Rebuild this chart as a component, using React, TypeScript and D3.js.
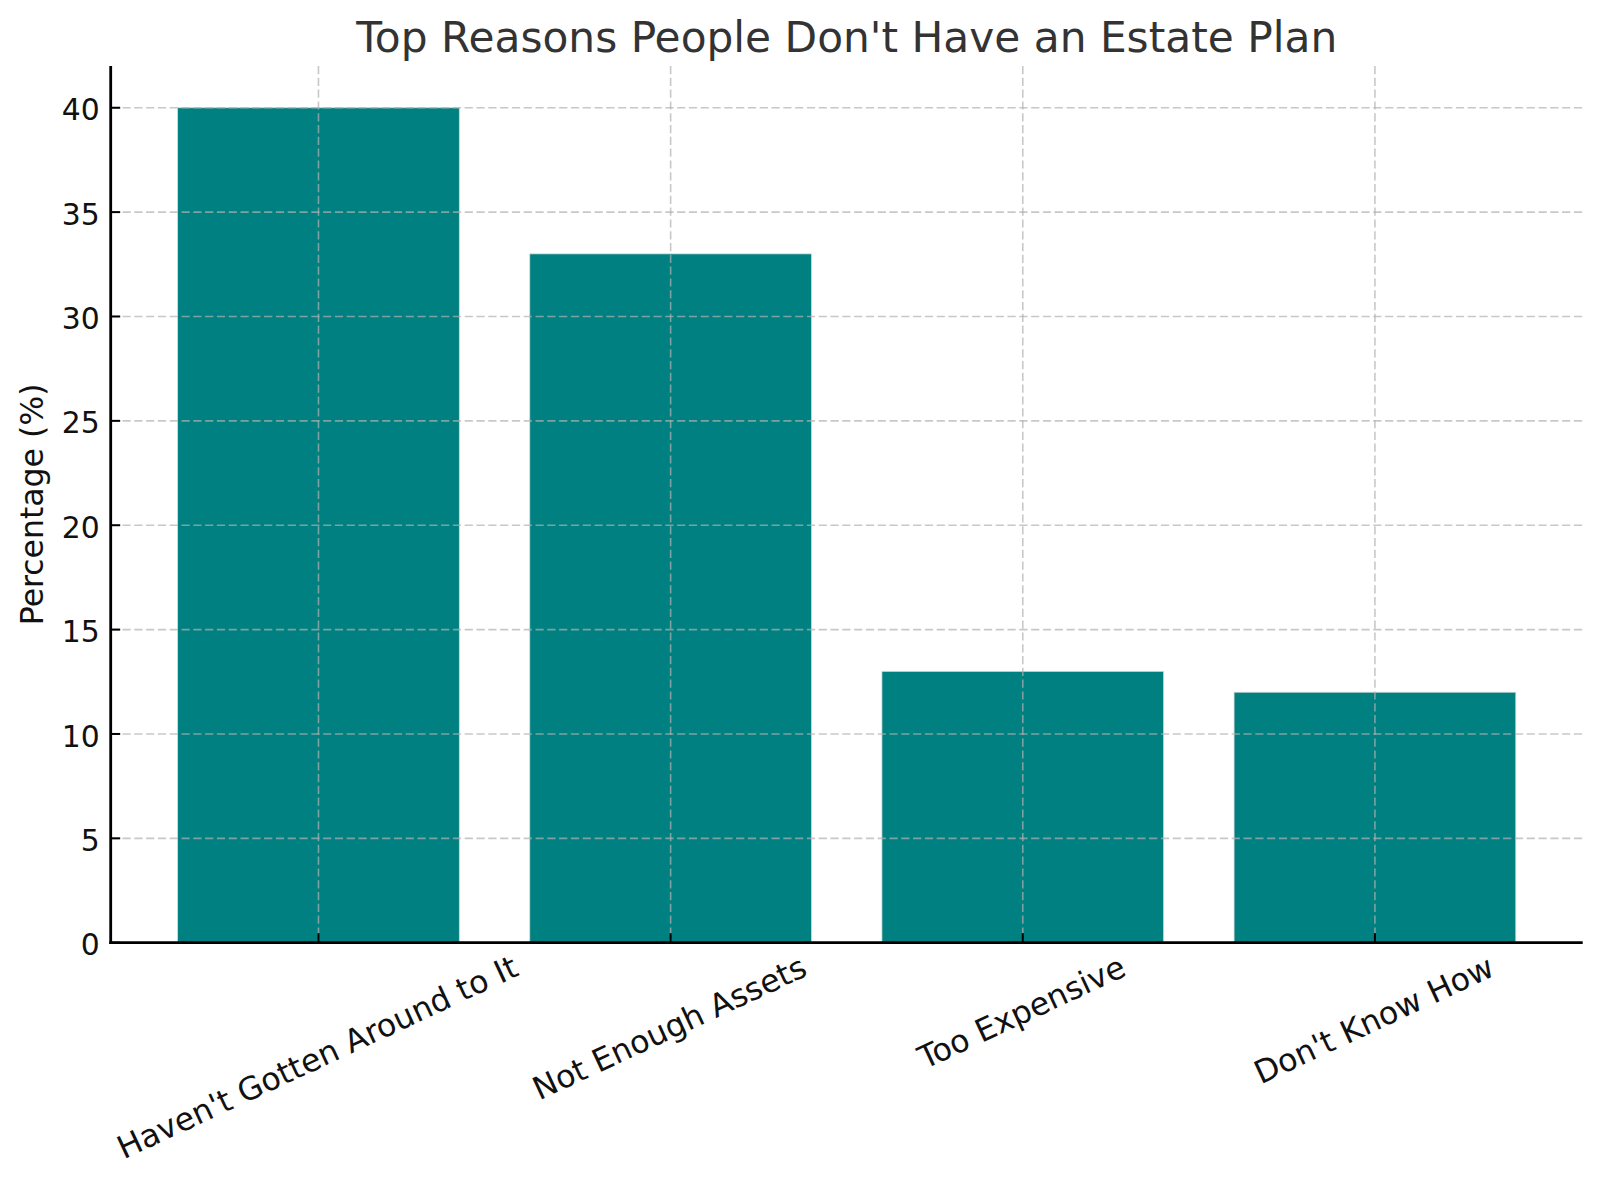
import React, { useEffect, useRef } from "react";
import * as d3 from "d3";

const categories = [
  "Haven't Gotten Around to It",
  "Not Enough Assets",
  "Too Expensive",
  "Don't Know How",
];
const values = [40, 33, 13, 12];
const yTickValues = [0, 5, 10, 15, 20, 25, 30, 35, 40];
const titleText = "Top Reasons People Don't Have an Estate Plan";
const yLabelText = "Percentage (%)";

const W = 1600;
const H = 1185;
const M = { left: 110.7, right: 1582.7, top: 66, bottom: 942.7 };
const FONT = "'DejaVu Sans', sans-serif";
const YTICK_FS = 29.8;
const XTICK_FS = 31.6;
const YLABEL_FS = 31.5;
const TITLE_FS = 42.3;

export default function App() {
  const ref = useRef<SVGSVGElement | null>(null);

  useEffect(() => {
    const svg = d3.select(ref.current);
    svg.selectAll("*").remove();

    const n = categories.length;
    const x = d3
      .scaleLinear()
      .domain([-0.4 - 0.05 * (n - 1 + 0.8), n - 1 + 0.4 + 0.05 * (n - 1 + 0.8)])
      .range([M.left, M.right]);
    const y = d3.scaleLinear().domain([0, 42]).range([M.bottom, M.top]);
    const barW = 0.8;

    svg.append("rect").attr("width", W).attr("height", H).attr("fill", "#fff");

    // bars
    svg
      .append("g")
      .selectAll("rect")
      .data(values)
      .join("rect")
      .attr("x", (_, i) => x(i - barW / 2))
      .attr("width", (_, i) => x(i + barW / 2) - x(i - barW / 2))
      .attr("y", (d) => y(d))
      .attr("height", (d) => y(0) - y(d))
      .attr("fill", "#008080")
      .attr("stroke", "#d8d8d8")
      .attr("stroke-width", 0.8);

    // grid
    const grid = svg.append("g").attr("stroke", "#b0b0b0").attr("stroke-opacity", 0.7)
      .attr("stroke-width", 1.6).attr("stroke-dasharray", "8.2,3.6");
    grid
      .selectAll("line.h")
      .data(yTickValues)
      .join("line")
      .attr("class", "h")
      .attr("x1", M.left)
      .attr("x2", M.right)
      .attr("y1", (d) => y(d))
      .attr("y2", (d) => y(d));
    grid
      .selectAll("line.v")
      .data(categories.map((_, i) => i))
      .join("line")
      .attr("class", "v")
      .attr("x1", (d) => x(d))
      .attr("x2", (d) => x(d))
      .attr("y1", M.top)
      .attr("y2", M.bottom);

    // ticks (inward)
    const ticks = svg.append("g").attr("stroke", "#000").attr("stroke-width", 2);
    ticks
      .selectAll("line.yt")
      .data(yTickValues)
      .join("line")
      .attr("x1", M.left)
      .attr("x2", M.left + 9.5)
      .attr("y1", (d) => y(d))
      .attr("y2", (d) => y(d));
    ticks
      .selectAll("line.xt")
      .data(categories.map((_, i) => i))
      .join("line")
      .attr("x1", (d) => x(d))
      .attr("x2", (d) => x(d))
      .attr("y1", M.bottom)
      .attr("y2", M.bottom - 9.5);

    // spines
    svg
      .append("line")
      .attr("x1", M.left)
      .attr("x2", M.left)
      .attr("y1", M.top)
      .attr("y2", M.bottom + 1.4)
      .attr("stroke", "#000")
      .attr("stroke-width", 2.8);
    svg
      .append("line")
      .attr("x1", M.left - 1.4)
      .attr("x2", M.right)
      .attr("y1", M.bottom)
      .attr("y2", M.bottom)
      .attr("stroke", "#000")
      .attr("stroke-width", 2.8);

    // y tick labels
    svg
      .append("g")
      .selectAll("text")
      .data(yTickValues)
      .join("text")
      .attr("x", M.left - 11)
      .attr("y", (d) => y(d) + 12.6)
      .attr("text-anchor", "end")
      .attr("font-family", FONT)
      .attr("font-size", YTICK_FS)
      .attr("fill", "#111")
      .text((d) => String(d));

    // x tick labels, rotated 25deg, bbox centered on tick, top at pad
    const theta = (25 * Math.PI) / 180;
    const pad = 10.3;
    const hBox = 0.996 * XTICK_FS;
    const xl = svg.append("g");
    categories.forEach((c, i) => {
      const g = xl.append("g");
      const t = g
        .append("text")
        .attr("text-anchor", "middle")
        .attr("font-family", FONT)
        .attr("font-size", XTICK_FS)
        .attr("fill", "#111")
        .attr("y", 0.262 * XTICK_FS)
        .text(c);
      const w = (t.node() as SVGTextElement).getComputedTextLength();
      const bh = w * Math.sin(theta) + hBox * Math.cos(theta);
      g.attr(
        "transform",
        `translate(${x(i)},${M.bottom + pad + bh / 2}) rotate(-25)`
      );
    });

    // y label
    svg
      .append("text")
      .attr("transform", `translate(42.5,${(M.top + M.bottom) / 2}) rotate(-90)`)
      .attr("text-anchor", "middle")
      .attr("font-family", FONT)
      .attr("font-size", YLABEL_FS)
      .attr("fill", "#111")
      .text(yLabelText);

    // title
    svg
      .append("text")
      .attr("x", (M.left + M.right) / 2)
      .attr("y", 51.7)
      .attr("text-anchor", "middle")
      .attr("font-family", FONT)
      .attr("font-size", TITLE_FS)
      .attr("fill", "#333")
      .text(titleText);
  }, []);

  return (
    <>
      <style>{`body{margin:0}`}</style>
      <svg ref={ref} width={W} height={H} style={{ display: "block" }} />
    </>
  );
}
